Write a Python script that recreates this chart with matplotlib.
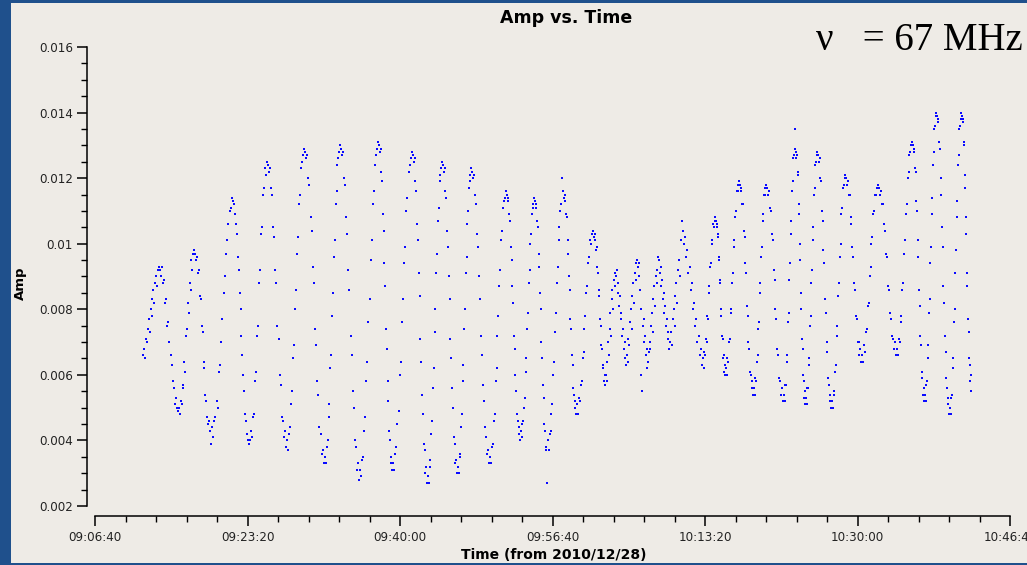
import numpy as np
import matplotlib.pyplot as plt
from matplotlib.patches import Rectangle
from matplotlib.ticker import MultipleLocator, FuncFormatter

# Fringe turning points, seconds of day (2010/12/28)
edge_t = [33115, 33226, 33351, 33456, 33567, 33705, 33816, 33934, 34059, 34177,
          34308, 34413, 34538, 34662, 34754, 34885, 34983, 35082, 35180, 35272,
          35390, 35501, 35593, 35685, 35770, 35875, 35960, 36072, 36151,
          36216, 36288, 36360, 36426, 36498, 36570, 36655, 36787,
          36872, 36937, 37029, 37121, 37206, 37318, 37396, 37462, 37541, 37633,
          37725, 37830, 37941, 38059, 38164, 38242, 38321, 38406, 38485, 38550]

# Amplitude samples between consecutive turning points (units of 1e-4)
streak_amp_e4 = [
    [66, 68, 65, 71, 70, 74, 77, 73, 80, 78, 83, 86, 82, 88, 90, 87, 92, 93],
    [92, 90, 93, 88, 89, 82, 83, 75, 76, 70, 66, 63, 58, 56, 51, 53, 50, 49],
    [50, 48, 52, 51, 57, 56, 64, 61, 72, 74, 82, 79, 88, 86, 95, 92, 97, 98],
    [97, 95, 96, 91, 92, 84, 83, 75, 73, 64, 62, 54, 52, 47, 45, 46, 43, 39],
    [44, 41, 46, 47, 52, 50, 61, 63, 70, 77, 85, 90, 97, 101, 106, 110, 111, 114],
    [113, 112, 109, 106, 103, 96, 92, 85, 80, 72, 66, 60, 55, 48, 46, 42, 40, 39],
    [40, 43, 41, 47, 48, 58, 61, 72, 75, 88, 92, 103, 105, 115, 117, 123, 121, 125],
    [124, 122, 123, 117, 115, 105, 102, 92, 88, 75, 71, 60, 57, 47, 46, 41, 43, 38],
    [40, 37, 42, 44, 51, 55, 65, 69, 80, 86, 97, 102, 112, 115, 123, 125, 127, 129],
    [128, 126, 127, 120, 118, 108, 104, 93, 88, 74, 69, 58, 54, 44, 42, 36, 37, 33],
    [35, 33, 38, 40, 47, 51, 62, 66, 78, 85, 96, 101, 112, 116, 124, 126, 128, 130],
    [129, 127, 128, 120, 118, 108, 103, 92, 86, 72, 66, 55, 50, 40, 38, 31, 33, 28],
    [31, 29, 34, 35, 43, 47, 58, 64, 76, 83, 95, 101, 112, 116, 124, 127, 129, 131],
    [130, 128, 129, 122, 119, 109, 104, 94, 87, 74, 68, 58, 52, 43, 40, 33, 35, 31],
    [33, 31, 36, 38, 45, 49, 60, 64, 76, 83, 94, 99, 110, 114, 122, 124, 126, 128],
    [127, 125, 126, 119, 116, 106, 101, 91, 84, 71, 64, 54, 48, 39, 37, 30, 32, 27],
    [29, 27, 32, 34, 42, 46, 56, 62, 73, 80, 91, 97, 107, 111, 119, 121, 123, 125],
    [124, 122, 123, 116, 114, 104, 99, 90, 83, 71, 65, 56, 50, 41, 39, 33, 34, 30],
    [32, 30, 35, 36, 44, 48, 58, 63, 74, 80, 91, 96, 106, 110, 117, 119, 121, 123],
    [122, 120, 121, 115, 112, 103, 99, 90, 83, 72, 66, 57, 52, 44, 41, 36, 37, 33],
    [35, 33, 38, 39, 46, 48, 58, 62, 72, 78, 87, 92, 101, 104, 111, 113, 114, 116],
    [115, 113, 114, 109, 107, 99, 95, 87, 82, 72, 68, 60, 55, 48, 46, 42, 44, 40],
    [43, 41, 45, 46, 50, 53, 61, 65, 74, 79, 88, 92, 100, 103, 109, 111, 112, 114],
    [113, 111, 112, 107, 105, 97, 93, 85, 80, 70, 65, 57, 53, 45, 43, 38, 37, 27],
    [40, 37, 42, 43, 48, 51, 60, 64, 73, 79, 88, 93, 101, 105, 110, 112, 120, 116],
    [114, 113, 115, 109, 108, 101, 97, 90, 86, 77, 74, 66, 63, 56, 54, 50, 52, 48],
    [51, 48, 53, 52, 57, 58, 65, 67, 74, 78, 85, 87, 94, 96, 101, 100, 103, 104],
    [102, 101, 103, 98, 99, 93, 91, 86, 84, 77, 75, 69, 68, 62, 63, 58, 60, 57],
    [60, 58, 64, 70, 66, 74, 79, 72, 83, 86, 80, 89, 87, 91],
    [90, 92, 85, 88, 81, 84, 77, 79, 72, 74, 68, 70, 65, 63],
    [66, 64, 71, 69, 76, 80, 74, 84, 88, 82, 91, 89, 94, 95],
    [93, 90, 94, 86, 60, 80, 55, 75, 77, 70, 72, 66, 68, 62],
    [64, 67, 70, 68, 75, 79, 73, 83, 87, 81, 90, 92, 88, 96],
    [95, 91, 93, 87, 89, 83, 85, 79, 81, 75, 77, 71, 73, 68],
    [70, 73, 69, 77, 80, 75, 84, 88, 82, 92, 95, 90, 101, 107],
    [104, 100, 102, 96, 98, 91, 93, 86, 88, 80, 82, 75, 77, 70, 72, 66, 68, 63],
    [65, 62, 67, 66, 71, 70, 78, 77, 85, 87, 93, 94, 100, 101, 106, 105, 107, 108],
    [107, 105, 106, 102, 103, 96, 95, 89, 88, 80, 78, 72, 71, 65, 66, 61, 63, 60],
    [62, 60, 65, 64, 70, 71, 79, 80, 88, 91, 99, 101, 108, 110, 116, 116, 118, 119],
    [118, 116, 117, 112, 112, 104, 102, 94, 91, 81, 78, 70, 68, 61, 60, 56, 58, 54],
    [56, 54, 59, 58, 64, 66, 74, 76, 85, 88, 96, 99, 107, 109, 115, 115, 117, 118],
    [117, 115, 116, 111, 110, 103, 101, 92, 89, 80, 77, 68, 66, 59, 58, 54, 56, 52],
    [54, 52, 57, 57, 64, 66, 76, 79, 89, 94, 103, 107, 116, 119, 126, 127, 135, 129],
    [128, 126, 127, 122, 121, 112, 109, 100, 95, 85, 80, 71, 68, 60, 58, 53, 55, 51],
    [53, 51, 56, 56, 63, 65, 75, 78, 88, 92, 101, 105, 115, 117, 124, 125, 127, 128],
    [127, 125, 126, 120, 119, 110, 107, 98, 94, 83, 79, 70, 67, 59, 57, 52, 54, 50],
    [52, 50, 55, 54, 61, 63, 72, 75, 84, 88, 96, 100, 109, 111, 117, 118, 120, 121],
    [120, 118, 119, 115, 115, 108, 106, 99, 96, 88, 86, 78, 77, 70, 70, 66, 68, 64],
    [66, 64, 69, 67, 73, 74, 81, 82, 90, 93, 100, 102, 109, 110, 115, 115, 117, 118],
    [117, 115, 116, 112, 112, 106, 104, 97, 96, 87, 86, 79, 77, 72, 71, 68, 70, 66],
    [68, 66, 71, 70, 76, 78, 86, 88, 97, 101, 109, 112, 120, 122, 127, 128, 130, 131],
    [130, 128, 129, 123, 122, 113, 110, 101, 96, 86, 81, 72, 69, 61, 59, 54, 56, 52],
    [54, 52, 57, 58, 65, 69, 79, 83, 94, 99, 109, 114, 124, 128, 135, 136, 139, 140],
    [139, 137, 138, 131, 129, 120, 115, 105, 99, 87, 82, 72, 67, 59, 56, 51, 53, 48],
    [50, 48, 53, 54, 62, 65, 76, 80, 91, 98, 108, 113, 124, 127, 135, 136, 138, 140],
    [139, 137, 138, 131, 130, 121, 117, 108, 103, 91, 87, 77, 73, 65, 63, 58, 60, 55],
]

x_start, x_end = 32800, 38800   # 09:06:40 .. 10:46:40
y_min, y_max = 0.002, 0.016


def hms(sec, pos=None):
    sec = int(round(sec))
    return "%02d:%02d:%02d" % (sec // 3600, (sec % 3600) // 60, sec % 60)


# samples are evenly spaced in time inside each half fringe
times, amps = [], []
for i, seg in enumerate(streak_amp_e4):
    times.append(np.linspace(edge_t[i], edge_t[i + 1], len(seg), endpoint=False))
    amps.append(np.array(seg) * 1e-4)
times = np.concatenate(times)
amps = np.concatenate(amps)

W, H = 1027, 565
fig = plt.figure(figsize=(W / 100, H / 100), dpi=100)
fig.patch.set_facecolor("#1f508c")
fig.add_artist(Rectangle((11 / W, 2 / H), (W - 11) / W, 560 / H,
                         transform=fig.transFigure, facecolor="#eeebe6",
                         edgecolor="none", zorder=0))

ax = fig.add_axes([95 / W, 59 / H, 915 / W, 459 / H])
ax.set_facecolor("none")
ax.plot(times, amps, "s", ms=2.0, mew=0, color="#0a0aff")

ax.set_xlim(x_start, x_end)
ax.set_ylim(y_min, y_max)
for side in ("top", "right"):
    ax.spines[side].set_visible(False)
ax.spines["left"].set_position(("outward", 5.8))
ax.spines["bottom"].set_position(("outward", 7.2))
for side in ("left", "bottom"):
    ax.spines[side].set_linewidth(1.1)

# ticks every 1000 s starting at 09:06:40, minor every 200 s
ax.xaxis.set_major_locator(MultipleLocator(1000, offset=x_start % 1000))
ax.xaxis.set_minor_locator(MultipleLocator(200))
ax.yaxis.set_major_locator(MultipleLocator(0.002))
ax.yaxis.set_minor_locator(MultipleLocator(0.0005))
ax.xaxis.set_major_formatter(FuncFormatter(hms))
ax.yaxis.set_major_formatter(FuncFormatter(lambda v, p: "%g" % round(v, 4)))
ax.tick_params(which="major", direction="out", length=7, width=1.1,
               labelsize=8.6, colors="black")
ax.tick_params(which="minor", direction="out", length=4, width=1.0)
ax.tick_params(axis="x", which="major", pad=4)
ax.tick_params(axis="y", which="major", pad=3)
for lab in ax.get_xticklabels() + ax.get_yticklabels():
    lab.set_color("#222222")

fig.text(566 / W, 1 - 18 / H, "Amp vs. Time", ha="center", va="center",
         fontsize=12.5, fontweight="bold")
fig.text(554 / W, 1 - 555 / H, "Time (from 2010/12/28)", ha="center",
         va="center", fontsize=10, fontweight="bold")
fig.text(20 / W, 1 - 283 / H, "Amp", ha="center", va="center", rotation=90,
         fontsize=9.5, fontweight="bold")
fig.text(816 / W, 1 - 41 / H, "ν   = 67 MHz", ha="left", va="center",
         fontsize=28, family=["Liberation Serif", "DejaVu Serif"])

fig.savefig("out.png", dpi=100, facecolor=fig.get_facecolor())
